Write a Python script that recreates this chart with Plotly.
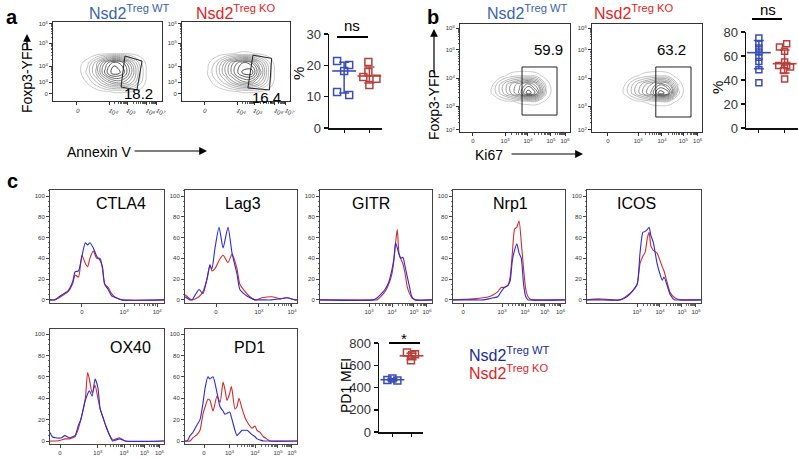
import math
import plotly.graph_objects as go

W, H = 798, 459
FONT = "Liberation Sans, Arial, sans-serif"

BLUE_T, RED_T = "#3b62b3", "#e3231f"
BLUE_S, RED_S = "#3a4db8", "#b8403c"
BLUE_H, RED_H = "#2a2ae0", "#d42a2a"
BLUE_L, RED_L = "#1a2a9c", "#e01e1e"

# ---------------- data ----------------
groups = ["WT", "KO"]

# panel a: Annexin V contour densities (display units 0-100)
a_grid_x = [16, 24, 32, 40, 48, 56, 64, 72, 80, 88]
a_grid_y = [0, 12, 24, 36, 48, 60, 72]
a_wt_density = [
    [0, 0, 0, 0, 0, 0, 0, 0, 0, 0],
    [0, 0, 0, 0.3, 0.7, 0.9, 0.9, 0.8, 0.4, 0],
    [0, 0, 1, 2.5, 4.5, 6, 6, 4.5, 2, 0],
    [0, 0.5, 2, 4.5, 8, 10, 9, 6, 2.5, 0],
    [0, 0.4, 1.5, 4, 7, 9, 8, 5, 2, 0],
    [0, 0, 0, 0.3, 0.6, 0.8, 0.8, 0.6, 0.2, 0],
    [0, 0, 0, 0, 0, 0, 0, 0, 0, 0],
]
a_ko_density = [
    [0, 0, 0, 0, 0, 0, 0, 0, 0, 0],
    [0, 0, 0, 0.3, 0.7, 0.9, 0.9, 0.8, 0.4, 0],
    [0, 0.3, 1.5, 3, 5, 6.5, 6.5, 4.5, 2, 0],
    [0, 0.9, 2.5, 5, 7.5, 9.5, 10, 6.5, 2.5, 0],
    [0, 0.6, 2, 4.5, 7, 8.5, 8, 5, 2, 0],
    [0, 0, 0.2, 0.5, 0.8, 1, 0.9, 0.6, 0.2, 0],
    [0, 0, 0, 0, 0, 0, 0, 0, 0, 0],
]
a_wt_gate_x = [66, 81.7, 77, 62.4, 66]
a_wt_gate_y = [57, 50.6, 14, 17.7, 57]
a_ko_gate_x = [65.7, 83, 81, 61, 65.7]
a_ko_gate_y = [58, 54, 14, 16.5, 58]
a_gate_pct = ["18.2", "16.4"]

# panel a: % Annexin V+ per mouse
a_wt_values = [21.4, 20.1, 18.2, 11.5, 10.5]
a_ko_values = [21.1, 17.9, 16.3, 15.7, 13.7]
a_mean = [18.2, 16.6]
a_err_low = [11.2, 14.4]
a_err_high = [21.0, 19.5]

# panel b: Ki67 contour densities
b_grid_x = [14, 22, 30, 38, 46, 54, 62, 70, 78, 86, 94]
b_grid_y = [12, 20, 28, 36, 44, 52, 60]
b_wt_density = [
    [0, 0, 0, 0, 0, 0, 0, 0, 0, 0, 0],
    [0, 0, 0, 0, 0, 0, 0, 0, 0, 0, 0],
    [0, 0, 0, 0.3, 0.6, 1, 1.2, 1.2, 0.6, 0, 0],
    [0, 0, 1, 3, 5, 7, 10, 8, 1.8, 0, 0],
    [0, 0, 0.8, 3, 5, 6.5, 8, 6, 1.5, 0, 0],
    [0, 0, 0, 0.5, 1.2, 1.6, 1.6, 1.2, 0.4, 0, 0],
    [0, 0, 0, 0, 0, 0, 0, 0, 0, 0, 0],
]
b_ko_density = [
    [0, 0, 0, 0, 0, 0, 0, 0, 0, 0, 0],
    [0, 0, 0, 0, 0, 0, 0, 0, 0, 0, 0],
    [0, 0, 0, 0.3, 0.7, 1.2, 1.5, 1.3, 0.6, 0, 0],
    [0, 0, 1, 3, 5, 7, 10, 8.5, 2, 0, 0],
    [0, 0, 0.8, 2.8, 4.5, 6, 7.5, 6, 1.5, 0, 0],
    [0, 0, 0, 0.5, 1.1, 1.5, 1.6, 1.2, 0.4, 0, 0],
    [0, 0, 0, 0, 0, 0, 0, 0, 0, 0, 0],
]
b_wt_gate_x = [56.4, 88.2, 88.2, 56.4, 56.4]
b_wt_gate_y = [15.7, 15.7, 60.2, 60.2, 15.7]
b_ko_gate_x = [58, 90, 90, 58, 58]
b_ko_gate_y = [13.9, 13.9, 60.2, 60.2, 13.9]
b_gate_pct = ["59.9", "63.2"]

# panel b: % Ki67+ per mouse
b_wt_values = [80.5, 75, 70.3, 66.7, 63.3, 59, 55.5, 48.6, 37.8]
b_ko_values = [70.3, 67.5, 64, 55, 52, 52, 50.8, 48, 40.8]
b_mean = [62.8, 53.6]
b_err_low = [49.4, 45.8]
b_err_high = [73.0, 65.0]

# panel c: histograms (% of max) on display axis 0-100
ctla4_x = [0, 4, 8, 12, 16, 20, 22, 25, 28, 31, 33, 35, 38, 41, 44, 46, 48, 51, 54, 58, 63, 100]
ctla4_wt = [0, 0, 3, 6, 9, 18, 27, 28, 42, 55, 53, 55, 50, 42, 38, 32, 15, 10, 4, 2, 0, 0]
ctla4_ko = [0, 0, 2, 5, 8, 16, 24, 22, 43, 35, 32, 40, 47, 40, 40, 30, 15, 12, 6, 2, 0, 0]

lag3_x = [0, 4.5, 6.3, 12.5, 16, 19.6, 22.3, 24, 26.8, 30.4, 34, 38.4, 42, 46.4, 49, 53.6, 58, 62.5, 68.8, 77.7, 84.8, 91, 98, 100]
lag3_wt = [3, 0, 0, 10, 6, 20, 33, 30, 50, 70, 50, 70, 45, 25, 10, 5, 2, 0, 0, 0, 1, 2, 0, 0]
lag3_ko = [5, 1, 0, 3, 8, 20, 34, 28, 30, 38, 43, 36, 44, 30, 15, 8, 3, 0, 2, 3, 1, 2, 0, 0]

gitr_x = [0, 48, 51, 54, 58, 61, 64, 66, 67.5, 69, 70.5, 72, 74, 76, 78, 80, 82, 85, 100]
gitr_wt = [0, 0, 2, 5, 10, 16, 28, 40, 55, 50, 44, 40, 41, 32, 22, 12, 3, 0, 0]
gitr_ko = [0, 0, 0, 3, 8, 14, 24, 38, 55, 68, 45, 40, 35, 25, 12, 6, 2, 0, 0]

nrp1_x = [0, 10, 18, 27, 32, 36, 40, 43, 46, 49, 51, 53, 55, 57, 59, 61, 63, 65, 67, 70, 100]
nrp1_wt = [0, 0, 0, 0, 1, 2, 3, 8, 12, 14, 18, 38, 48, 54, 45, 40, 15, 3, 0, 0, 0]
nrp1_ko = [0, 0.5, 1, 2, 3, 5, 8, 12, 12, 14, 22, 45, 68, 70, 76, 55, 30, 10, 3, 0, 0]

icos_x = [0, 10, 29, 35, 39.5, 44, 46.5, 49, 51, 53, 54.5, 56, 58, 61.5, 64, 66, 67.5, 70, 73, 77, 82, 100]
icos_wt = [0, 0, 0, 3, 8, 15, 45, 65, 66, 68, 70, 62, 56, 35, 25, 19, 22, 15, 5, 0, 0, 0]
icos_ko = [0, 1, 0, 4, 8, 15, 35, 42, 46, 60, 65, 52, 48, 45, 38, 32, 28, 18, 7, 2, 0, 0]

ox40_x = [0, 2, 5, 10, 13, 17, 20, 22, 25, 27, 31, 33, 34.5, 37, 39.5, 42, 44, 46.5, 49, 52.5, 55, 58, 61, 66, 100]
ox40_wt = [8, 4, 3, 3, 5, 3, 4, 5, 15, 20, 38, 44, 47, 42, 58, 50, 30, 22, 14, 5, 0, 1, 2, 0, 0]
ox40_ko = [0, 0, 0, 1, 2, 2, 3, 4, 12, 20, 40, 64, 58, 45, 52, 40, 30, 22, 14, 5, 1, 2, 3, 0, 0]

pd1_x = [0, 2, 4.5, 7, 10.7, 13.4, 16, 18, 20.5, 22.3, 25, 28.6, 31.3, 34, 35.7, 37.5, 40, 41.5, 44.6, 46.4, 48.2, 51, 53.6, 55.4, 59.8, 62.5, 64.3, 67, 70, 73, 76, 100]
pd1_wt = [0, 0, 5, 8, 15, 20, 35, 50, 60, 58, 60, 45, 32, 28, 25, 26, 27, 22, 10, 5, 7, 10, 10, 10, 6, 4, 2, 1, 0, 0, 0, 0]
pd1_ko = [0, 0, 0, 3, 6, 10, 25, 32, 39, 38, 28, 42, 36, 55, 48, 38, 45, 51, 30, 32, 40, 30, 22, 18, 12, 14, 10, 8, 4, 2, 0, 0]

# PD1 MFI per mouse
mfi_wt_values = [468, 482, 462]
mfi_ko_values = [715, 690, 700, 645]
mfi_mean = [470, 685]
mfi_err_low = [460, 650]
mfi_err_high = [482, 708]

# horizontal jitter of the dot plots (layout only)
a_wt_jit = [-0.28, 0.2, 0.0, -0.28, 0.2]
a_ko_jit = [-0.04, -0.04, -0.24, 0.28, 0.0]
b_wt_jit = [0, 0, 0, 0, 0, 0, 0, 0, 0]
b_ko_jit = [0.08, -0.2, 0.0, 0.0, -0.23, 0.08, 0.23, -0.04, 0.0]
mfi_wt_jit = [-0.26, 0.0, 0.26]
mfi_ko_jit = [-0.24, 0.03, 0.18, -0.03]

# ---------------- helpers ----------------
fig = go.Figure()
layout = {}
annotations = []
shapes = []


def clamp(v):
    return min(1.0, max(0.0, v))


def px_dom(x0, x1, y0, y1):
    return [clamp(x0 / W), clamp(x1 / W)], [clamp(1 - y1 / H), clamp(1 - y0 / H)]


def pxp(x, y):
    return x / W, 1 - y / H


def log_minor(majors):
    out = []
    for a, b in zip(majors[:-1], majors[1:]):
        for m in range(2, 10):
            out.append(a + (b - a) * math.log10(m))
    return out


def sup(p):
    return "10<sup>%s</sup>" % p


def add_axes(n, box, xr, yr, xt=None, yt=None, xfont=6, yfont=6, box_mirror=True,
             xminor=None, yminor_dtick=None, yminor_vals=None, axcolor="#333", lw=1):
    xd, yd = px_dom(*box)
    xn = "xaxis" if n == 1 else "xaxis%d" % n
    yn = "yaxis" if n == 1 else "yaxis%d" % n
    xa = dict(domain=xd, range=xr, anchor="y" if n == 1 else "y%d" % n, automargin=False,
              showgrid=False, zeroline=False, showline=True, linecolor=axcolor, linewidth=lw,
              mirror=box_mirror, ticks="outside", ticklen=3, tickwidth=1, tickcolor=axcolor,
              tickfont=dict(size=xfont, color="#333", family=FONT), fixedrange=True)
    if xt is not None:
        xa.update(tickmode="array", tickvals=xt[0], ticktext=xt[1])
    else:
        xa.update(showticklabels=False)
    if xminor is not None:
        xa["minor"] = dict(tickmode="array", tickvals=xminor, ticklen=1.5, ticks="outside",
                           tickcolor=axcolor, tickwidth=0.8)
    ya = dict(domain=yd, range=yr, anchor="x" if n == 1 else "x%d" % n, automargin=False,
              showgrid=False, zeroline=False, showline=True, linecolor=axcolor, linewidth=lw,
              mirror=box_mirror, ticks="outside", ticklen=3, tickwidth=1, tickcolor=axcolor,
              tickfont=dict(size=yfont, color="#333", family=FONT), fixedrange=True)
    if yt is not None:
        ya.update(tickmode="array", tickvals=yt[0], ticktext=yt[1])
    if yminor_dtick is not None:
        ya["minor"] = dict(dtick=yminor_dtick, ticklen=1.5, ticks="outside", tickcolor=axcolor,
                           tickwidth=0.8)
    if yminor_vals is not None:
        ya["minor"] = dict(tickmode="array", tickvals=yminor_vals, ticklen=1.5, ticks="outside",
                           tickcolor=axcolor, tickwidth=0.8)
    layout[xn] = xa
    layout[yn] = ya
    return ("x" if n == 1 else "x%d" % n), ("y" if n == 1 else "y%d" % n)


def text(x, y, s, size, color="black", angle=0, xanchor="center", bold=False):
    X, Y = pxp(x, y)
    annotations.append(dict(x=X, y=Y, xref="paper", yref="paper", text=("<b>%s</b>" % s) if bold else s,
                            showarrow=False, font=dict(size=size, color=color, family=FONT),
                            textangle=angle, xanchor=xanchor, yanchor="middle"))


def line_px(x0, y0, x1, y1, width=1.5, color="black"):
    X0, Y0 = pxp(x0, y0)
    X1, Y1 = pxp(x1, y1)
    shapes.append(dict(type="line", xref="paper", yref="paper", x0=X0, y0=Y0, x1=X1, y1=Y1,
                       line=dict(color=color, width=width)))


def arrow_px(xh, yh, xt, yt):
    X, Y = pxp(xh, yh)
    annotations.append(dict(x=X, y=Y, xref="paper", yref="paper", text="", showarrow=True,
                            ax=xt - xh, ay=yt - yh, arrowhead=2, arrowsize=1.3, arrowwidth=1.2,
                            arrowcolor="black"))


CONT_SCALE = [[0, "#bdbdbd"], [0.6, "#6e6e6e"], [1, "#1e1e1e"]]


def contour(xa, ya, gx, gy, z, gate_x, gate_y, pct, pct_xy):
    fig.add_trace(go.Contour(x=gx, y=gy, z=z, xaxis=xa, yaxis=ya, showscale=False,
                             colorscale=CONT_SCALE, contours=dict(coloring="lines", start=0.8, end=9.5, size=0.85),
                             line=dict(width=0.8, smoothing=1.3), hoverinfo="skip"))
    fig.add_trace(go.Scatter(x=gate_x, y=gate_y, xaxis=xa, yaxis=ya, mode="lines",
                             line=dict(color="#222", width=1), hoverinfo="skip"))
    annotations.append(dict(x=pct_xy[0], y=pct_xy[1], xref=xa, yref=ya, text=pct, showarrow=False,
                            font=dict(size=15, color="black", family=FONT)))


def dotplot(xa, ya, wt, ko, wt_j, ko_j, mean, lo, hi, msize=7):
    for gi, (vals, jit, col) in enumerate([(wt, wt_j, BLUE_S), (ko, ko_j, RED_S)]):
        pos = gi + 1
        fig.add_trace(go.Scatter(x=[pos + j for j in jit], y=vals, xaxis=xa, yaxis=ya, mode="markers",
                                 marker=dict(symbol="square-open", size=msize, color=col,
                                             line=dict(width=1.5, color=col)),
                                 cliponaxis=False, hoverinfo="skip"))
        fig.add_trace(go.Scatter(x=[pos], y=[mean[gi]], xaxis=xa, yaxis=ya, mode="markers",
                                 marker=dict(symbol="line-ew", size=17, color=col,
                                             line=dict(width=1.6, color=col)),
                                 error_y=dict(type="data", symmetric=False, array=[hi[gi] - mean[gi]],
                                              arrayminus=[mean[gi] - lo[gi]], width=5, thickness=1.5,
                                              color=col),
                                 cliponaxis=False, hoverinfo="skip"))


def hist(xa, ya, x, wt, ko):
    fig.add_trace(go.Scatter(x=x, y=ko, xaxis=xa, yaxis=ya, mode="lines",
                             line=dict(color=RED_H, width=1.1, shape="spline", smoothing=0.6),
                             hoverinfo="skip"))
    fig.add_trace(go.Scatter(x=x, y=wt, xaxis=xa, yaxis=ya, mode="lines",
                             line=dict(color=BLUE_H, width=1.1, shape="spline", smoothing=0.6),
                             hoverinfo="skip"))


# ---------------- panel a ----------------
a_x1_ticks = ([22, 52, 68, 86, 95.4], ["0", sup(4), sup(5), sup(6), sup(7)])
a_x2_ticks = ([20.4, 51.4, 66.7, 86, 96], ["0", sup(4), sup(5), sup(6), sup(7)])
a_y_ticks = ([8.9, 24, 44.3, 73.4, 97.5], ["0", sup(3), sup(4), sup(5), sup(6)])
a_y_minor = log_minor([24, 44.3, 73.4, 97.5])

xa, ya = add_axes(1, (53, 162, 22, 101), [0, 100], [0, 100], a_x1_ticks, a_y_ticks,
                  xminor=log_minor([52, 68, 86, 95.4]), yminor_vals=a_y_minor)
contour(xa, ya, a_grid_x, a_grid_y, a_wt_density, a_wt_gate_x, a_wt_gate_y, a_gate_pct[0], (78, 9))
xa, ya = add_axes(2, (182, 290, 22, 101), [0, 100], [0, 100], a_x2_ticks, a_y_ticks,
                  xminor=log_minor([51.4, 66.7, 86, 96]), yminor_vals=a_y_minor)
contour(xa, ya, a_grid_x, a_grid_y, a_ko_density, a_ko_gate_x, a_ko_gate_y, a_gate_pct[1], (78, 5))

xa, ya = add_axes(3, (329, 382, 34, 128), [0.4, 2.5], [0, 30], ([1, 2], ["", ""]),
                  ([0, 10, 20, 30], ["0", "10", "20", "30"]), yfont=13, box_mirror=False,
                  axcolor="#111", lw=1.5)
layout["yaxis3"].update(ticklen=4, tickwidth=1.5)
dotplot(xa, ya, a_wt_values, a_ko_values, a_wt_jit, a_ko_jit, a_mean, a_err_low, a_err_high)

text(12, 17, "a", 20, bold=True)
text(129, 12, "Nsd2<sup>Treg WT</sup>", 16, BLUE_T)
text(236, 12, "Nsd2<sup>Treg KO</sup>", 16, RED_T)
text(27, 78, "Foxp3-YFP", 14, angle=-90)
arrow_px(27, 34, 27, 51)
text(99, 152, "Annexin V", 14)
arrow_px(207, 151, 133, 151)
text(352, 26, "ns", 15)
line_px(337, 37, 368, 37, 2)
text(299, 74, "%", 15, angle=-90)

# ---------------- panel b ----------------
b_x3_ticks = ([11.8, 41, 61.8, 82.7, 95.5], ["0", sup(3), sup(4), sup(5), sup(6)])
b_x4_ticks = ([14.5, 42, 63.6, 83, 96], ["0", sup(3), sup(4), sup(5), sup(6)])
b_y_ticks = ([1.9, 24, 50, 76, 96.3], [sup(2), sup(3), sup(4), sup(5), sup(6)])
b_y_minor = log_minor([1.9, 24, 50, 76, 96.3])

xa, ya = add_axes(4, (460, 570, 24, 132), [0, 100], [0, 100], b_x3_ticks, b_y_ticks,
                  xminor=log_minor([41, 61.8, 82.7, 95.5]), yminor_vals=b_y_minor)
contour(xa, ya, b_grid_x, b_grid_y, b_wt_density, b_wt_gate_x, b_wt_gate_y, b_gate_pct[0], (80, 76))
xa, ya = add_axes(5, (592, 702, 24, 132), [0, 100], [0, 100], b_x4_ticks, b_y_ticks,
                  xminor=log_minor([42, 63.6, 83, 96]), yminor_vals=b_y_minor)
contour(xa, ya, b_grid_x, b_grid_y, b_ko_density, b_ko_gate_x, b_ko_gate_y, b_gate_pct[1], (72.7, 76))

xa, ya = add_axes(6, (746, 798, 32, 128), [0.5, 2.52], [0, 80], ([1, 2], ["", ""]),
                  ([0, 20, 40, 60, 80], ["0", "20", "40", "60", "80"]), yfont=13, box_mirror=False,
                  axcolor="#111", lw=1.5)
layout["yaxis6"].update(ticklen=4, tickwidth=1.5)
dotplot(xa, ya, b_wt_values, b_ko_values, b_wt_jit, b_ko_jit, b_mean, b_err_low, b_err_high, msize=6)

text(433, 17, "b", 20, bold=True)
text(527, 12, "Nsd2<sup>Treg WT</sup>", 16, BLUE_T)
text(634, 12, "Nsd2<sup>Treg KO</sup>", 16, RED_T)
text(434, 105, "Foxp3-YFP", 14, angle=-90)
arrow_px(434, 29, 434, 75)
text(489, 155, "Ki67", 14)
arrow_px(583, 154, 510, 154)
text(768, 9, "ns", 15)
line_px(752, 19, 782, 19, 2)
text(717, 88, "%", 15, angle=-90)

# ---------------- panel c ----------------
text(12, 181, "c", 20, bold=True)
hy_ticks = ([0, 20, 40, 60, 80, 100], ["0", "20", "40", "60", "80", "100"])
hist_specs = [
    ("CTLA4", (50, 164, 190, 303), [-3, 105.8], ([28, 65, 94], ["0", sup(3), sup(4)]), [65, 94], ctla4_x, ctla4_wt, ctla4_ko, (148, 203)),
    ("Lag3", (185, 297, 190, 303), [-3, 105.8], ([27.7, 66, 95.5], ["0", sup(3), sup(4)]), [66, 95.5], lag3_x, lag3_wt, lag3_ko, (263, 203)),
    ("GITR", (320, 432, 190, 303), [-3, 105.8], ([43.75, 64.3, 83.9, 95.5], [sup(3), sup(4), sup(5), sup(6)]), [43.75, 64.3, 83.9, 95.5], gitr_x, gitr_wt, gitr_ko, (392, 203)),
    ("Nrp1", (453, 565, 190, 303), [-3, 105.8], ([9, 43.75, 64.3, 82, 96], ["0", sup(3), sup(4), sup(5), sup(6)]), [43.75, 64.3, 82, 96], nrp1_x, nrp1_wt, nrp1_ko, (530, 203)),
    ("ICOS", (587, 701, 190, 303), [-3, 105.8], ([43.9, 64, 83.3, 95.6], [sup(3), sup(4), sup(5), sup(6)]), [43.9, 64, 83.3, 95.6], icos_x, icos_wt, icos_ko, (658, 203)),
    ("OX40", (50, 164, 329, 444), [-2.8, 104.7], ([8.8, 42, 65, 83, 96], ["0", sup(3), sup(4), sup(5), sup(6)]), [42, 65, 83, 96], ox40_x, ox40_wt, ox40_ko, (153, 347)),
    ("PD1", (185, 297, 329, 444), [-2.8, 104.7], ([17, 39.7, 62.5, 83, 95.5], ["0", sup(3), sup(4), sup(5), sup(6)]), [39.7, 62.5, 83, 95.5], pd1_x, pd1_wt, pd1_ko, (267, 347)),
]
for i, (name, box, yr, xt, dec, hx, hwt, hko, tpos) in enumerate(hist_specs):
    xa, ya = add_axes(7 + i, box, [0, 100], yr, xt, hy_ticks, xfont=6, yfont=6,
                      xminor=log_minor(dec), yminor_dtick=5, axcolor="#444")
    hist(xa, ya, hx, hwt, hko)
    text(tpos[0], tpos[1], name, 16, xanchor="right")

xa, ya = add_axes(14, (379, 423, 343, 432), [0.3, 2.6], [0, 800], ([1, 2], ["", ""]),
                  ([0, 200, 400, 600, 800], ["0", "200", "400", "600", "800"]), yfont=13,
                  box_mirror=False, axcolor="#111", lw=1.5)
layout["yaxis14"].update(ticklen=4, tickwidth=1.5)
dotplot(xa, ya, mfi_wt_values, mfi_ko_values, mfi_wt_jit, mfi_ko_jit, mfi_mean, mfi_err_low, mfi_err_high)
text(404, 338, "*", 15)
line_px(389, 343, 420, 343, 2)
text(346, 386, "PD1 MFI", 14, angle=-90)

text(467, 354, "Nsd2<sup>Treg WT</sup>", 16, BLUE_L, xanchor="left")
text(467, 372, "Nsd2<sup>Treg KO</sup>", 16, RED_L, xanchor="left")

fig.update_layout(template="none", width=W, height=H, margin=dict(l=0, r=0, t=0, b=0, pad=0),
                  autosize=False, paper_bgcolor="white", plot_bgcolor="white", showlegend=False,
                  font=dict(family=FONT), annotations=annotations, shapes=shapes, **layout)
fig.write_html("out.html", config={"displayModeBar": False, "staticPlot": True},
               post_script="document.body.style.margin='0';document.body.style.padding='0';"
                           "document.body.style.overflow='hidden';")
